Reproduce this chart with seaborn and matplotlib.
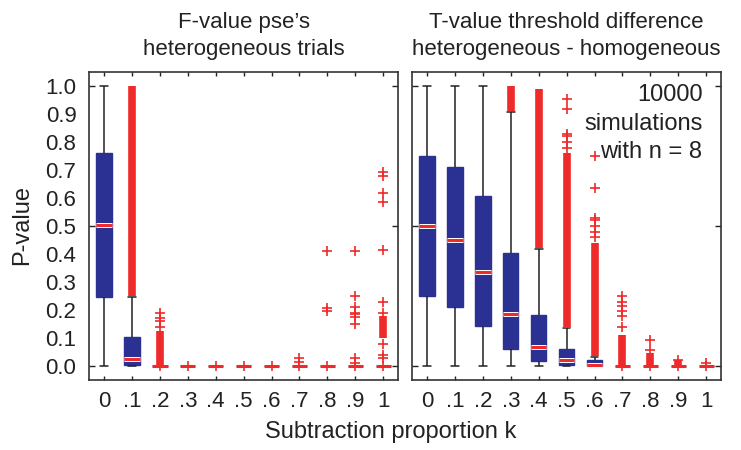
import numpy as np
import pandas as pd
import matplotlib
matplotlib.use("Agg")
import matplotlib.pyplot as plt
import matplotlib.patheffects as pe
from matplotlib.ticker import FixedLocator
import seaborn as sns

# ---------------- data ----------------
cats = ["0", ".1", ".2", ".3", ".4", ".5", ".6", ".7", ".8", ".9", "1"]
ytick_vals = [0.0, 0.1, 0.2, 0.3, 0.4, 0.5, 0.6, 0.7, 0.8, 0.9, 1.0]
ytick_labels = ["0.0", "0.1", "0.2", "0.3", "0.4", "0.5", "0.6", "0.7", "0.8", "0.9", "1.0"]

title_left = "F-value pse\u2019s\nheterogeneous trials"
title_right = "T-value threshold difference\nheterogeneous - homogeneous"
xlabel = "Subtraction proportion k"
ylabel = "P-value"
note = "10000\nsimulations\nwith n = 8"

# left panel box statistics
left_wlo = [0.0, 0.0, 0, 0, 0, 0, 0, 0, 0, 0, 0]
left_q1 = [0.245, 0.002, 0, 0, 0, 0, 0, 0, 0, 0, 0]
left_med = [0.505, 0.024, 0, 0, 0, 0, 0, 0, 0, 0, 0]
left_q3 = [0.760, 0.104, 0, 0, 0, 0, 0, 0, 0, 0, 0]
left_whi = [1.0, 0.245, 0, 0, 0, 0, 0, 0, 0, 0, 0]

# right panel box statistics
right_wlo = [0.0, 0.0, 0.0, 0.0, 0.0, 0.0, 0.0, 0, 0, 0, 0]
right_q1 = [0.249, 0.209, 0.142, 0.062, 0.017, 0.002, 0.001, 0, 0, 0, 0]
right_med = [0.500, 0.449, 0.336, 0.184, 0.068, 0.020, 0.005, 0, 0, 0, 0]
right_q3 = [0.749, 0.711, 0.606, 0.404, 0.181, 0.059, 0.022, 0, 0, 0, 0]
right_whi = [1.0, 1.0, 1.0, 0.907, 0.419, 0.134, 0.032, 0, 0, 0, 0]

# dense outlier bands (category, low, high)
left_band_cat = [".1", ".2", "1"]
left_band_lo = [0.25, 0.003, 0.10]
left_band_hi = [1.0, 0.125, 0.18]
right_band_cat = [".3", ".4", ".5", ".6", ".7", ".8", ".9"]
right_band_lo = [0.91, 0.42, 0.134, 0.035, 0.003, 0.003, 0.0]
right_band_hi = [1.0, 0.99, 0.76, 0.44, 0.11, 0.045, 0.02]

# individual outliers
left_out_cat = [".2", ".2", ".2", ".2", ".2", ".3", ".4", ".5", ".6",
                ".7", ".7", ".7",
                ".8", ".8", ".8", ".8",
                ".9", ".9", ".9", ".9", ".9", ".9", ".9", ".9", ".9", ".9",
                "1", "1", "1", "1", "1", "1", "1", "1", "1", "1", "1"]
left_out_val = [0.19, 0.17, 0.16, 0.14, 0.0, 0.0, 0.0, 0.0, 0.0,
                0.0, 0.015, 0.027,
                0.0, 0.198, 0.207, 0.41,
                0.0, 0.01, 0.028, 0.151, 0.175, 0.186, 0.19, 0.21, 0.25, 0.41,
                0.0, 0.027, 0.038, 0.08, 0.19, 0.229, 0.413, 0.586, 0.618, 0.677, 0.693]
right_out_cat = [".5", ".5", ".5", ".5", ".5", ".5",
                 ".6", ".6", ".6", ".6", ".6", ".6", ".6",
                 ".7", ".7", ".7", ".7", ".7", ".7", ".7",
                 ".8", ".8", ".8", ".9", ".9", "1", "1"]
right_out_val = [0.955, 0.917, 0.83, 0.82, 0.80, 0.78,
                 0.75, 0.634, 0.53, 0.52, 0.50, 0.48, 0.46,
                 0.25, 0.23, 0.215, 0.195, 0.18, 0.14, 0.0,
                 0.094, 0.056, 0.0, 0.02, 0.0, 0.01, 0.0]

# ---------------- style ----------------
NAVY = "#2B3192"
RED = "#EE2A2A"
sns.set_style("white")
plt.rcParams["font.family"] = ["Liberation Sans", "DejaVu Sans"]
plt.rcParams["axes.edgecolor"] = "#333333"
plt.rcParams["axes.linewidth"] = 1.2

fig = plt.figure(figsize=(7.41, 4.50), dpi=100)
W, H = 741, 450
ax_l = fig.add_axes([89 / W, 1 - 380 / H, (398 - 89) / W, (380 - 72) / H])
ax_r = fig.add_axes([412 / W, 1 - 380 / H, (721 - 412) / W, (380 - 72) / H])


def summary_frame(wlo, q1, med, q3, whi):
    rows = []
    for c, a, b, m, d, e in zip(cats, wlo, q1, med, q3, whi):
        for v in (a, b, b, m, d, d, e):
            rows.append((c, v))
    return pd.DataFrame(rows, columns=["k", "p"])


def draw_panel(ax, stats, band_cat, band_lo, band_hi, out_cat, out_val):
    df = summary_frame(*stats)
    sns.boxplot(data=df, x="k", y="p", order=cats, ax=ax, width=0.55,
                whis=(0, 100), showfliers=False, color=NAVY, linecolor=NAVY,
                saturation=1,
                boxprops=dict(facecolor=NAVY, edgecolor=NAVY, linewidth=1),
                whiskerprops=dict(color="#222222", linewidth=1.1),
                capprops=dict(color="#222222", linewidth=1.1),
                medianprops=dict(color=RED, linewidth=2.2,
                                 path_effects=[pe.Stroke(linewidth=3.6, foreground="white"),
                                               pe.Normal()]))
    pos = {c: i for i, c in enumerate(cats)}
    bx = [pos[c] for c in band_cat]
    ax.vlines(bx, band_lo, band_hi, color=RED, linewidth=5.5, zorder=3)
    ox = [pos[c] for c in out_cat]
    sns.scatterplot(x=ox, y=out_val, ax=ax, marker="+", color=RED, s=45,
                    linewidth=1.2, zorder=4, legend=False)
    ax.set_xlim(-0.54, 10.53)
    ax.set_ylim(-0.05, 1.05)
    ax.set_xlabel("")
    ax.set_ylabel("")
    ax.set_xticks(range(len(cats)))
    ax.set_xticklabels(cats, fontsize=16)
    ax.tick_params(axis="x", direction="in", top=True, bottom=True,
                   length=3, width=1, pad=8, colors="#222222")
    ax.yaxis.remove_overlapping_locs = False
    ax.set_yticks(ytick_vals)
    ax.yaxis.set_minor_locator(FixedLocator([0.0, 0.5, 1.0]))
    ax.tick_params(axis="y", which="major", length=0, pad=9, colors="#222222")
    ax.tick_params(axis="y", which="minor", direction="in", left=True,
                   right=True, length=4, width=1, color="#222222")
    for s in ax.spines.values():
        s.set_visible(True)


draw_panel(ax_l, (left_wlo, left_q1, left_med, left_q3, left_whi),
           left_band_cat, left_band_lo, left_band_hi, left_out_cat, left_out_val)
draw_panel(ax_r, (right_wlo, right_q1, right_med, right_q3, right_whi),
           right_band_cat, right_band_lo, right_band_hi, right_out_cat, right_out_val)

ax_l.set_yticklabels(ytick_labels, fontsize=16)
ax_r.set_yticklabels([])

ax_l.set_title(title_left, fontsize=16, pad=12, linespacing=1.4, color="#222222")
ax_r.set_title(title_right, fontsize=16, pad=12, linespacing=1.4, color="#222222")

ax_r.text(0.94, 0.96, note, transform=ax_r.transAxes, ha="right", va="top",
          fontsize=17, linespacing=1.38, color="#222222")

fig.text(391 / W, 1 - 432 / H, xlabel, ha="center", va="center", fontsize=17,
         color="#222222")
fig.text(22 / W, 0.5, ylabel, ha="center", va="center", rotation=90,
         fontsize=17, color="#222222")

fig.savefig("out.png", dpi=100)
